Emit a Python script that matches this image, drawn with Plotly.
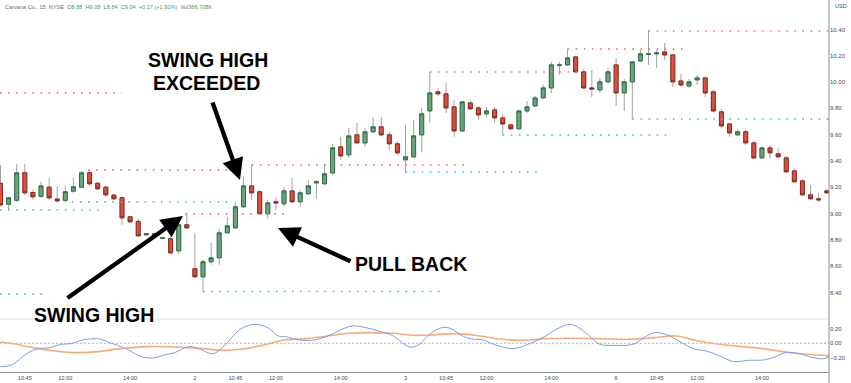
import plotly.graph_objects as go

# ---------------- data ----------------
opens = [9.23, 9.07, 9.10, 9.31, 9.16, 9.13, 9.20, 9.11, 9.10, 9.17,
         9.20, 9.31, 9.23, 9.20, 9.14, 9.12, 8.975, 8.94, 8.838, 8.846,
         8.811, 8.808, 8.716, 8.914, 8.58, 8.519, 8.633, 8.663, 8.853, 8.891,
         9.051, 9.21, 9.165, 8.998, 9.089, 9.074, 9.172, 9.089, 9.15, 9.233,
         9.226, 9.309, 9.507, 9.446, 9.598, 9.537, 9.621, 9.659, 9.598, 9.53,
         9.408, 9.431, 9.598, 9.78, 9.925, 9.91, 9.811, 9.628, 9.841, 9.803,
         9.758, 9.788, 9.727, 9.674, 9.644, 9.78, 9.818, 9.879, 9.955, 10.126,
         10.13, 10.191, 10.077, 9.955, 9.94, 10.001, 10.13, 9.917, 10.001, 10.16,
         10.21, 10.214, 10.229, 10.206, 10.008, 9.97, 10.016, 10.031, 9.925, 9.773,
         9.681, 9.598, 9.621, 9.537, 9.423, 9.499, 9.454, 9.423, 9.324, 9.248,
         9.142, 9.112, 9.172]
highs = [9.37, 9.127, 9.378, 9.378, 9.18, 9.241, 9.271, 9.21, 9.21, 9.271,
         9.324, 9.332, 9.241, 9.21, 9.15, 9.127, 8.982, 8.96, 8.853, 8.853,
         8.823, 8.861, 8.929, 9.005, 8.853, 8.648, 8.777, 8.884, 8.975, 9.089,
         9.279, 9.37, 9.18, 9.104, 9.127, 9.203, 9.271, 9.18, 9.256, 9.256,
         9.378, 9.53, 9.583, 9.651, 9.689, 9.651, 9.735, 9.735, 9.621, 9.552,
         9.674, 9.712, 9.803, 10.077, 9.955, 9.993, 9.864, 9.856, 9.864, 9.818,
         9.811, 9.811, 9.758, 9.681, 9.788, 9.856, 9.894, 9.978, 10.153, 10.153,
         10.251, 10.198, 10.099, 10.092, 10.031, 10.107, 10.183, 10.024, 10.16, 10.244,
         10.388, 10.244, 10.297, 10.214, 10.062, 10.024, 10.054, 10.039, 9.94, 9.796,
         9.689, 9.644, 9.636, 9.552, 9.507, 9.522, 9.499, 9.438, 9.34, 9.264,
         9.218, 9.157, 9.188]
lows = [9.051, 9.028, 9.089, 9.142, 9.104, 9.119, 9.104, 9.089, 9.081, 9.157,
        9.195, 9.21, 9.18, 9.127, 9.104, 8.914, 8.929, 8.823, 8.830, 8.815,
        8.808, 8.694, 8.694, 8.884, 8.511, 8.405, 8.61, 8.61, 8.846, 8.884,
        9.043, 9.104, 8.99, 8.96, 9.028, 9.051, 9.081, 9.051, 9.142, 9.112,
        9.218, 9.294, 9.408, 9.423, 9.53, 9.507, 9.613, 9.59, 9.484, 9.446,
        9.309, 9.423, 9.469, 9.689, 9.894, 9.765, 9.583, 9.621, 9.788, 9.712,
        9.735, 9.689, 9.598, 9.636, 9.636, 9.765, 9.811, 9.871, 9.917, 10.054,
        10.122, 10.069, 9.947, 9.887, 9.917, 9.993, 9.818, 9.78, 9.72, 10.153,
        10.13, 10.107, 10.168, 9.962, 9.962, 9.955, 9.978, 9.887, 9.773, 9.651,
        9.583, 9.59, 9.522, 9.416, 9.416, 9.416, 9.423, 9.309, 9.233, 9.134,
        9.104, 9.089, 9.15]
closes = [9.066, 9.119, 9.309, 9.157, 9.127, 9.21, 9.119, 9.096, 9.165, 9.203,
          9.309, 9.226, 9.188, 9.142, 9.112, 8.967, 8.937, 8.83, 8.846, 8.823,
          8.815, 8.701, 8.914, 8.891, 8.519, 8.633, 8.663, 8.853, 8.906, 9.051,
          9.21, 9.157, 8.998, 9.081, 9.081, 9.172, 9.089, 9.157, 9.21, 9.241,
          9.302, 9.499, 9.438, 9.59, 9.537, 9.621, 9.659, 9.598, 9.53, 9.461,
          9.431, 9.59, 9.758, 9.917, 9.91, 9.803, 9.628, 9.849, 9.796, 9.75,
          9.78, 9.727, 9.681, 9.644, 9.78, 9.811, 9.879, 9.955, 10.13, 10.13,
          10.183, 10.077, 9.955, 9.947, 10.001, 10.077, 9.917, 10.001, 10.153, 10.214,
          10.214, 10.221, 10.206, 10.001, 9.978, 10.001, 10.031, 9.917, 9.78, 9.666,
          9.613, 9.621, 9.537, 9.423, 9.499, 9.461, 9.431, 9.317, 9.241, 9.142,
          9.112, 9.104, 9.157]

# swing-high (resistance) and swing-low (support) levels: price, start bar, end bar
res_price = [9.917, 9.33, 9.37, 8.997, 10.076, 10.25, 10.388]
res_start = [-0.06, 10.8, 31.0, 22.8, 53.0, 70.0, 80.0]
res_end = [15.0, 29.2, 57.3, 35.4, 71.2, 84.5, 102.3]
sup_price = [9.027, 9.088, 8.388, 8.407, 9.316, 9.597, 9.719]
sup_start = [-0.06, 8.8, -0.06, 25.0, 50.0, 62.0, 78.0]
sup_end = [12.3, 28.6, 5.2, 54.3, 66.6, 82.4, 102.3]

# oscillator (lower pane)
fast_x = [0, 1.35, 3.4, 4.7, 6.1, 7.4, 8.7, 10.1, 11.8, 12.4, 13.5, 15.5, 17.5, 19.2,
          20.2, 21.5, 23.2, 24.2, 26.2, 27.6, 29.6, 31.3, 33.0, 34.3, 35.3, 36.3,
          38.4, 40.4, 41.7, 43.4, 45.1, 47.1, 48.5, 50.5, 51.5, 53.2, 54.5, 55.5,
          57.2, 58.5, 59.6, 60.9, 63.3, 65.3, 67.3, 68.6, 70.3, 71.7, 72.7, 74.0,
          75.4, 78.1, 79.4, 80.8, 82.1, 83.4, 85.5, 87.1, 88.8, 90.5, 92.2, 94.2,
          95.6, 96.9, 98.6, 100.3, 101.6, 102.6]
fast_v = [-0.322, -0.30, -0.13, -0.074, -0.06, -0.014, -0.005, 0.046, 0.064, 0.055,
          0.009, -0.074, -0.189, -0.198, -0.161, -0.129, -0.046, -0.06, -0.143,
          -0.037, 0.193, 0.262, 0.216, 0.101, 0.092, 0.055, 0.041, 0.101, 0.170,
          0.239, 0.216, 0.156, 0.101, -0.051, -0.028, 0.147, 0.216, 0.207, 0.092,
          0.055, 0.046, -0.014, -0.074, -0.005, 0.101, 0.193, 0.262, 0.193, 0.101,
          -0.014, -0.028, -0.014, 0.078, 0.147, 0.124, 0.055, -0.074, -0.106,
          -0.175, -0.253, -0.235, -0.23, -0.189, -0.129, -0.143, -0.198, -0.212,
          -0.175]
slow_x = [0, 2.0, 4.0, 6.7, 9.4, 12.1, 14.8, 18.2, 21.5, 24.9, 27.6, 29.6, 32.3,
          35.0, 37.7, 40.4, 43.1, 45.8, 48.5, 51.1, 53.8, 56.5, 59.2, 61.9, 64.6,
          67.3, 70.7, 74.0, 77.4, 80.8, 83.4, 86.1, 88.8, 91.5, 94.2, 96.9, 99.6,
          102.6]
slow_v = [0.018, -0.014, -0.06, -0.106, -0.129, -0.115, -0.074, -0.046, -0.051,
          -0.074, -0.097, -0.083, -0.028, 0.046, 0.064, 0.101, 0.138, 0.147, 0.138,
          0.11, 0.12, 0.133, 0.101, 0.055, 0.041, 0.064, 0.069, 0.064, 0.055, 0.078,
          0.101, 0.032, -0.014, -0.046, -0.074, -0.12, -0.152, -0.175]

tick_pos = [3, 8, 16, 24, 29, 34, 42, 50, 55, 60, 68, 76, 81, 86, 94]
tick_txt = ["10:45", "12:00", "14:00", "2", "10:45", "12:00", "14:00", "3",
            "10:45", "12:00", "14:00", "6", "10:45", "12:00", "14:00"]
price_ticks = [8.4, 8.6, 8.8, 9.0, 9.2, 9.4, 9.6, 9.8, 10.0, 10.2, 10.4]
osc_ticks = [0.2, 0.0, -0.2]
osc_labels = ["0.20", "0.00", "\u22120.20"]

# ---------------- layout geometry ----------------
W, H = 851, 383
ML, MR, MT, MB = 0, 22, 0, 11
PW = W - ML - MR
PH = H - MT - MB
SPLIT = 319  # pane separator, px from top


def px(xp):
    return (xp - ML) / PW


def py(yp):
    return (PH - (yp - MT)) / PH


xs = list(range(len(opens)))
body_hi = [max(o, c) for o, c in zip(opens, closes)]
body_lo = [min(o, c) for o, c in zip(opens, closes)]

GREEN_FILL, GREEN_LINE = "#67a67f", "#2f6e48"
RED_FILL, RED_LINE = "#d9503f", "#8c2a1e"
WICK = "#a3a3a3"

fig = go.Figure()

# level lines
for p, s, e in zip(res_price, res_start, res_end):
    fig.add_trace(go.Scatter(x=[s, e], y=[p, p], mode="lines", xaxis="x", yaxis="y",
                             line=dict(color="#f07575", width=1.6, dash="1.6px,6.5px"),
                             hoverinfo="skip", showlegend=False))
for p, s, e in zip(sup_price, sup_start, sup_end):
    fig.add_trace(go.Scatter(x=[s, e], y=[p, p], mode="lines", xaxis="x", yaxis="y",
                             line=dict(color="#2cc3d6", width=1.6, dash="1.6px,6.5px"),
                             hoverinfo="skip", showlegend=False))

# wicks
fig.add_trace(go.Candlestick(
    x=xs, open=opens, high=highs, low=lows, close=closes, xaxis="x", yaxis="y",
    increasing=dict(line=dict(color=WICK, width=1), fillcolor=WICK),
    decreasing=dict(line=dict(color=WICK, width=1), fillcolor=WICK),
    whiskerwidth=0, hoverinfo="skip", showlegend=False))
# bodies
fig.add_trace(go.Candlestick(
    x=xs, open=opens, high=body_hi, low=body_lo, close=closes, xaxis="x", yaxis="y",
    increasing=dict(line=dict(color=GREEN_LINE, width=1), fillcolor=GREEN_FILL),
    decreasing=dict(line=dict(color=RED_LINE, width=1), fillcolor=RED_FILL),
    whiskerwidth=0, hoverinfo="skip", showlegend=False))

# oscillator
fig.add_trace(go.Scatter(x=[-0.062, 102.28], y=[0, 0], mode="lines", xaxis="x", yaxis="y2",
                         line=dict(color="#b8b8b8", width=1, dash="2px,2px"),
                         hoverinfo="skip", showlegend=False))
fig.add_trace(go.Scatter(x=slow_x, y=slow_v, mode="lines", xaxis="x", yaxis="y2",
                         line=dict(color="#f7ad7a", width=1.6, shape="spline"),
                         hoverinfo="skip", showlegend=False))
fig.add_trace(go.Scatter(x=fast_x, y=fast_v, mode="lines", xaxis="x", yaxis="y2",
                         line=dict(color="#7d9df0", width=1, shape="spline"),
                         hoverinfo="skip", showlegend=False))

split_frac = (PH - (SPLIT - MT)) / PH
price_top = 10.0 + (82 - MT) / 131.5
price_bot = 10.0 - (SPLIT - 82) / 131.5
osc_top = (343.3 - SPLIT) * 0.0138
osc_bot = (343.3 - (MT + PH)) * 0.0138

tickfont = dict(family="Liberation Sans, Arial, sans-serif", size=6, color="#4a4a4a")

annotations = []
# header
annotations.append(dict(
    xref="paper", yref="paper", x=px(3), y=py(7), xanchor="left", yanchor="middle",
    showarrow=False,
    text=("<span style='color:#6b6e78'>Carvana Co., 15, NYSE</span>  "
          "<span style='color:#6b6e78'>O</span><span style='color:#3f9a6a'>8.88</span>  "
          "<span style='color:#6b6e78'>H</span><span style='color:#3f9a6a'>9.08</span>  "
          "<span style='color:#6b6e78'>L</span><span style='color:#3f9a6a'>8.84</span>  "
          "<span style='color:#6b6e78'>C</span><span style='color:#3f9a6a'>9.04</span>  "
          "<span style='color:#3f9a6a'>+0.17 (+1.92%)</span>  "
          "<span style='color:#6b6e78'>Vol</span><span style='color:#3f9a6a'>366.708K</span>"),
    font=dict(family="Liberation Sans, Arial, sans-serif", size=5.6)))
annotations.append(dict(
    xref="paper", yref="paper", x=px(833), y=py(6), xanchor="left", yanchor="middle",
    showarrow=False, text="USD", font=dict(family="Liberation Sans, Arial, sans-serif",
                                           size=5.6, color="#4a4a4a")))

bold = dict(family="Liberation Sans, Arial, sans-serif", size=19.5, color="#000000")
for txt, cx, cy in [("<b>SWING HIGH</b>", 208, 60), ("<b>EXCEEDED</b>", 206, 83),
                    ("<b>PULL BACK</b>", 411, 264), ("<b>SWING HIGH</b>", 94, 315)]:
    annotations.append(dict(xref="paper", yref="paper", x=px(cx), y=py(cy),
                            xanchor="center", yanchor="middle", showarrow=False,
                            text=txt, font=bold))

for (hx, hy), (tx, ty) in [((240, 180), (212, 101)), ((278, 228), (352, 262)),
                           ((183, 216), (66, 299))]:
    annotations.append(dict(xref="paper", yref="paper", x=px(hx), y=py(hy),
                            ax=tx - hx, ay=ty - hy, text="", showarrow=True,
                            arrowhead=2, arrowsize=1, arrowwidth=4.3,
                            arrowcolor="#000000", standoff=0))

shapes = [
    dict(type="line", xref="paper", yref="paper", x0=0, x1=1, y0=split_frac, y1=split_frac,
         line=dict(color="#e3e5ea", width=1)),
    dict(type="line", xref="paper", yref="paper", x0=1, x1=1, y0=-MB / PH, y1=1,
         line=dict(color="#8a8d94", width=1)),
]

fig.update_layout(
    width=W, height=H,
    margin=dict(l=ML, r=MR, t=MT, b=MB),
    paper_bgcolor="white", plot_bgcolor="white",
    showlegend=False,
    hovermode=False,
    xaxis=dict(domain=[0, 1], range=[-0.062, 102.28], anchor="y2",
               tickvals=tick_pos, ticktext=tick_txt, ticks="",
               tickfont=dict(family="Liberation Sans, Arial, sans-serif", size=5.6,
                             color="#4a4a4a"),
               showline=True, linecolor="#8a8d94", linewidth=1,
               showgrid=False, zeroline=False, rangeslider=dict(visible=False),
               fixedrange=True),
    yaxis=dict(domain=[split_frac, 1], range=[price_bot, price_top], anchor="x",
               side="right", tickvals=price_ticks,
               ticktext=["%.2f" % v for v in price_ticks], ticks="",
               tickfont=tickfont, showgrid=False, zeroline=False, showline=False,
               fixedrange=True),
    yaxis2=dict(domain=[0, split_frac], range=[osc_bot, osc_top], anchor="x",
                side="right", tickvals=osc_ticks, ticktext=osc_labels, ticks="",
                tickfont=tickfont, showgrid=False, zeroline=False, showline=False,
                fixedrange=True),
    annotations=annotations,
    shapes=shapes,
)

fig.write_html(
    "out.html",
    config={"displayModeBar": False, "staticPlot": True},
    post_script=("document.body.style.margin='0';document.body.style.padding='0';"
                 "document.documentElement.style.overflow='hidden';"),
)
